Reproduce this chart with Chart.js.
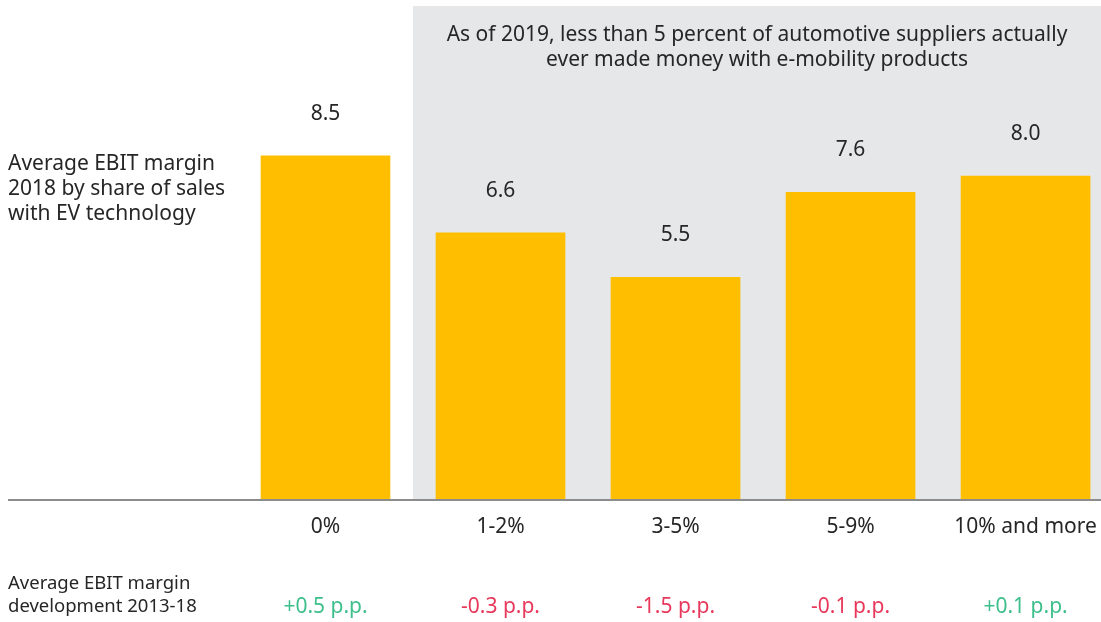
<!DOCTYPE html>
<html>
<head>
<meta charset="utf-8">
<script src="https://cdn.jsdelivr.net/npm/chart.js@4/dist/chart.umd.min.js"></script>
<style>
  html, body { margin: 0; padding: 0; background: #fff; }
  #wrap { width: 1101px; height: 622px; }
</style>
</head>
<body>
<div id="wrap"><canvas id="chart" width="1101" height="622"></canvas></div>
<script>
// données
const categories = ['0%', '1-2%', '3-5%', '5-9%', '10% and more'];
const margins2018 = [8.5, 6.6, 5.5, 7.6, 8.0];
const devLabels = ['+0.5 p.p.', '-0.3 p.p.', '-1.5 p.p.', '-0.1 p.p.', '+0.1 p.p.'];
const devValues = [0.5, -0.3, -1.5, -0.1, 0.1];
const leftTitle = ['Average EBIT margin', '2018 by share of sales', 'with EV technology'];
const bottomTitle = ['Average EBIT margin', 'development 2013-18'];
const boxTitle = ['As of 2019, less than 5 percent of automotive suppliers actually', 'ever made money with e-mobility products'];

const FONT = '"Noto Sans", "Open Sans", sans-serif';
const TEXT = '#262626';

/** Fond gris à partir du 2e groupe */
const shadeBox = {
  id: 'shadeBox',
  beforeDatasetsDraw(chart) {
    const { ctx, chartArea, scales } = chart;
    const x0 = scales.x.getPixelForValue(1.5);
    ctx.save();
    ctx.fillStyle = '#e6e7e9';
    ctx.fillRect(x0, chartArea.top, chartArea.right - x0, chartArea.bottom - chartArea.top);
    ctx.fillStyle = TEXT;
    ctx.font = '21px ' + FONT;
    ctx.textAlign = 'center';
    ctx.textBaseline = 'middle';
    const cx = (x0 + chartArea.right) / 2;
    boxTitle.forEach((t, i) => ctx.fillText(t, cx, chartArea.top + 29 + i * 25));
    ctx.restore();
  }
};

/** Textes, étiquettes et ligne de base */
const annotations = {
  id: 'annotations',
  afterDatasetsDraw(chart) {
    const { ctx, chartArea, scales } = chart;
    const x = scales.x, y = scales.y;
    const base = y.getPixelForValue(0);
    ctx.save();
    // ligne de base
    ctx.strokeStyle = '#8c8c8c';
    ctx.lineWidth = 2;
    ctx.beginPath();
    ctx.moveTo(chartArea.left, base);
    ctx.lineTo(chartArea.right, base);
    ctx.stroke();

    ctx.fillStyle = TEXT;
    ctx.textBaseline = 'middle';
    ctx.textAlign = 'center';
    ctx.font = '21px ' + FONT;
    margins2018.forEach((v, i) => {
      const px = x.getPixelForValue(i + 1);
      ctx.fillText(v.toFixed(1), px, y.getPixelForValue(v) - 42);
      ctx.fillText(categories[i], px, base + 27);
    });

    devLabels.forEach((t, i) => {
      ctx.fillStyle = devValues[i] >= 0 ? '#3dbf8b' : '#e8385b';
      ctx.fillText(t, x.getPixelForValue(i + 1), 607);
    });

    ctx.textAlign = 'left';
    ctx.fillStyle = TEXT;
    ctx.font = '21px ' + FONT;
    leftTitle.forEach((t, i) => ctx.fillText(t, 8, 164 + i * 25));
    ctx.font = '18.5px ' + FONT;
    bottomTitle.forEach((t, i) => ctx.fillText(t, 8, 584 + i * 23));
    ctx.restore();
  }
};

new Chart(document.getElementById('chart'), {
  type: 'bar',
  data: {
    datasets: [{
      data: margins2018.map((v, i) => ({ x: i + 1, y: v })),
      backgroundColor: '#ffbe00',
      borderWidth: 0,
      barThickness: 129
    }]
  },
  options: {
    responsive: false,
    animation: false,
    layout: { padding: { left: 8, right: 0, top: 6, bottom: 122 } },
    scales: {
      x: { type: 'linear', min: -0.814, max: 5.431, offset: false, display: false },
      y: { min: 0, max: 12.2, display: false }
    },
    plugins: { legend: { display: false }, tooltip: { enabled: false } }
  },
  plugins: [shadeBox, annotations]
});
</script>
</body>
</html>
